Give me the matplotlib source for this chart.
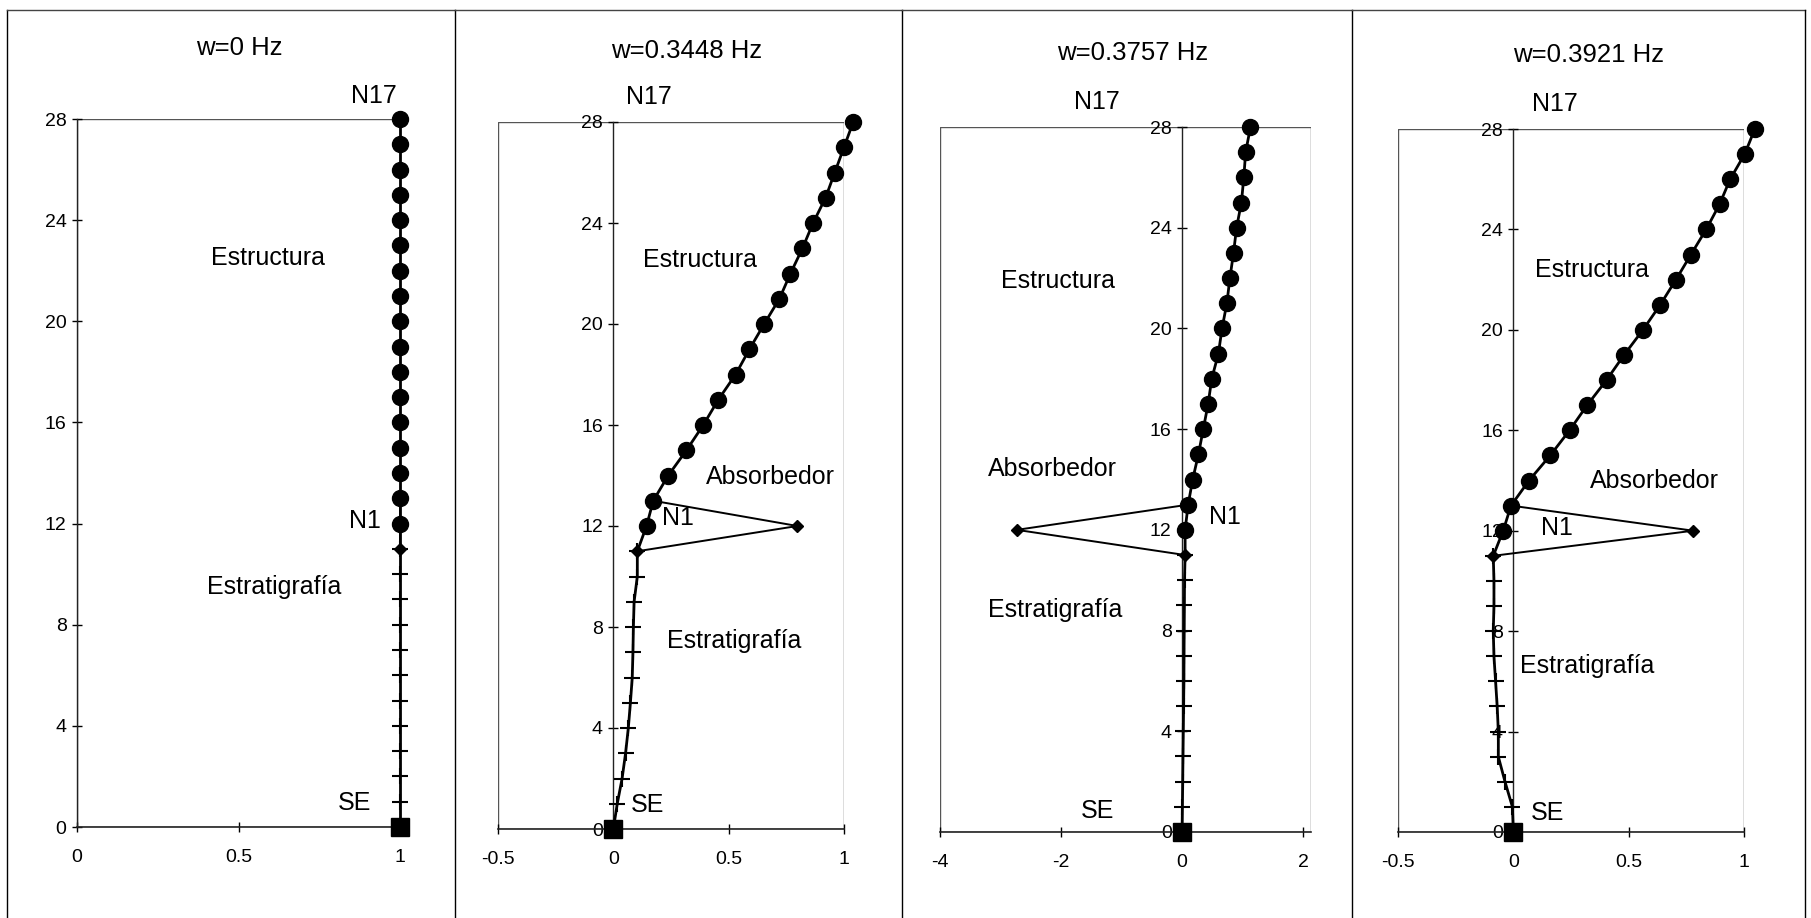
import numpy as np
import matplotlib.pyplot as plt
from matplotlib.patches import Rectangle
from matplotlib.lines import Line2D

plt.rcParams['font.family'] = ['Liberation Sans', 'DejaVu Sans']

# heights
strat_y = list(range(0, 12))        # SE (0) .. 11
struct_y = list(range(12, 29))      # N1 (12) .. N17 (28)

titles = ['w=0 Hz', 'w=0.3448 Hz', 'w=0.3757 Hz', 'w=0.3921 Hz']

# stratigraphy displacements, y = 0..11
strat_x = [
    [1, 1, 1, 1, 1, 1, 1, 1, 1, 1, 1, 1],
    [0, 0.017, 0.038, 0.053, 0.065, 0.074, 0.082, 0.085, 0.087, 0.09, 0.104, 0.104],
    [0, 0.005, 0.01, 0.015, 0.02, 0.025, 0.03, 0.032, 0.035, 0.038, 0.04, 0.05],
    [0, -0.004, -0.036, -0.065, -0.065, -0.07, -0.077, -0.084, -0.087, -0.084, -0.084, -0.087],
]

# structure displacements, y = 12..28
struct_x = [
    [1] * 17,
    [0.144, 0.173, 0.238, 0.317, 0.39, 0.455, 0.53, 0.59, 0.654, 0.72, 0.768, 0.82,
     0.866, 0.92, 0.96, 1.0, 1.04],
    [0.05, 0.10, 0.175, 0.27, 0.35, 0.43, 0.49, 0.60, 0.66, 0.74, 0.79, 0.85,
     0.90, 0.98, 1.02, 1.05, 1.13],
    [-0.044, -0.01, 0.068, 0.16, 0.244, 0.32, 0.404, 0.48, 0.562, 0.637, 0.705, 0.77,
     0.836, 0.894, 0.94, 1.003, 1.047],
]

# absorber displacement (at y = 12)
absorber_x = [1, 0.798, -2.73, 0.78]

xlims = [(0, 1), (-0.5, 1), (-4, 2.13), (-0.5, 1)]
xticks = [[0, 0.5, 1], [-0.5, 0, 0.5, 1], [-4, -2, 0, 2], [-0.5, 0, 0.5, 1]]
xticklabels = [['0', '0.5', '1'], ['-0.5', '0', '0.5', '1'],
               ['-4', '-2', '0', '2'], ['-0.5', '0', '0.5', '1']]
yticks = [0, 4, 8, 12, 16, 20, 24, 28]

# label positions in data coords: (x, y)
lbl_n17 = [(0.92, 28.9), (0.155, 29.0), (-1.40, 29.0), (0.18, 29.0)]
lbl_n1 = [(0.89, 12.1), (0.28, 12.3), (0.71, 12.5), (0.19, 12.1)]
lbl_se = [(0.86, 0.95), (0.15, 0.96), (-1.40, 0.83), (0.15, 0.74)]
lbl_est = [(0.59, 22.5), (0.375, 22.55), (-2.05, 21.9), (0.34, 22.4)]
lbl_strat = [(0.61, 9.5), (0.525, 7.46), (-2.09, 8.8), (0.32, 6.6)]
lbl_abs = [None, (0.68, 13.95), (-2.15, 14.4), (0.61, 14.0)]

W, H = 1811, 918
# axes boxes in pixels: left, right, top, bottom
boxes = [(77, 400, 119, 827), (498, 844, 122, 829),
         (940, 1311, 127, 832), (1398, 1744, 129, 832)]
title_pos = [(239, 48), (687, 51), (1133, 53), (1589, 55)]
frame_x = [7, 455, 902, 1352, 1805]

fig = plt.figure(figsize=(W / 100, H / 100), dpi=100)

# outer chart frames
for i in range(4):
    x0 = frame_x[i] / W
    x1 = frame_x[i + 1] / W
    fig.add_artist(Line2D([x0, x0], [0, 1 - 10 / H], color='black', lw=1.0))
    fig.add_artist(Line2D([x0, x1], [1 - 10 / H, 1 - 10 / H], color='#444444', lw=1.0))
fig.add_artist(Line2D([frame_x[-1] / W] * 2, [0, 1 - 10 / H], color='black', lw=1.0))

for i in range(4):
    l, r, t, b = boxes[i]
    ax = fig.add_axes([l / W, 1 - b / H, (r - l) / W, (b - t) / H])
    ax.set_xlim(*xlims[i])
    ax.set_ylim(0, 28)

    for s in ['top', 'right']:
        ax.spines[s].set_visible(False)
    ax.spines['left'].set_position(('data', 0))
    ax.spines['left'].set_color('#222222')
    ax.spines['bottom'].set_color('#222222')
    ax.spines['left'].set_linewidth(1.0)
    ax.spines['bottom'].set_linewidth(1.2)
    # plot area border
    ax.add_patch(Rectangle((0, 0), 1, 1, transform=ax.transAxes, fill=False,
                           edgecolor='#555555', lw=1.0, zorder=0))

    ax.set_xticks(xticks[i])
    ax.set_xticklabels(xticklabels[i])
    ax.set_yticks(yticks)
    ax.tick_params(axis='both', direction='inout', length=7, width=1.0,
                   labelsize=14, colors='black')
    ax.tick_params(axis='x', pad=12)
    ax.tick_params(axis='y', pad=4)

    sx = strat_x[i]
    tx = struct_x[i]
    # absorber triangle: top of soil (y=11) -> absorber (y=12) -> second structure node (y=13)
    ax.plot([sx[11], absorber_x[i], tx[1]], [11, 12, 13], color='black', lw=1.4,
            clip_on=False, zorder=3)
    ax.plot([absorber_x[i]], [12], marker='D', ms=6, color='black', clip_on=False, zorder=4)
    # stratigraphy
    ax.plot(sx, strat_y, color='black', lw=2.0, marker='+', ms=11, mew=1.5,
            clip_on=False, zorder=4)
    ax.plot([sx[11]], [11], marker='D', ms=6, color='black', clip_on=False, zorder=5)
    # structure
    ax.plot([sx[11]] + tx, [11] + struct_y, color='black', lw=2.0, clip_on=False, zorder=4)
    ax.plot(tx, struct_y, ls='none', marker='o', ms=11.5, color='black', clip_on=False, zorder=5)
    # base
    ax.plot([sx[0]], [0], marker='s', ms=13, color='black', clip_on=False, zorder=6)

    fs = 18
    ax.text(*lbl_n17[i], 'N17', fontsize=fs, ha='center', va='center')
    ax.text(*lbl_n1[i], 'N1', fontsize=fs, ha='center', va='center')
    ax.text(*lbl_se[i], 'SE', fontsize=fs, ha='center', va='center')
    ax.text(*lbl_est[i], 'Estructura', fontsize=fs, ha='center', va='center')
    ax.text(*lbl_strat[i], 'Estratigrafía', fontsize=fs, ha='center', va='center')
    if lbl_abs[i] is not None:
        ax.text(*lbl_abs[i], 'Absorbedor', fontsize=fs, ha='center', va='center')

    fig.text(title_pos[i][0] / W, 1 - title_pos[i][1] / H, titles[i], fontsize=18.5,
             ha='center', va='center')

fig.savefig('out.png', dpi=100)
